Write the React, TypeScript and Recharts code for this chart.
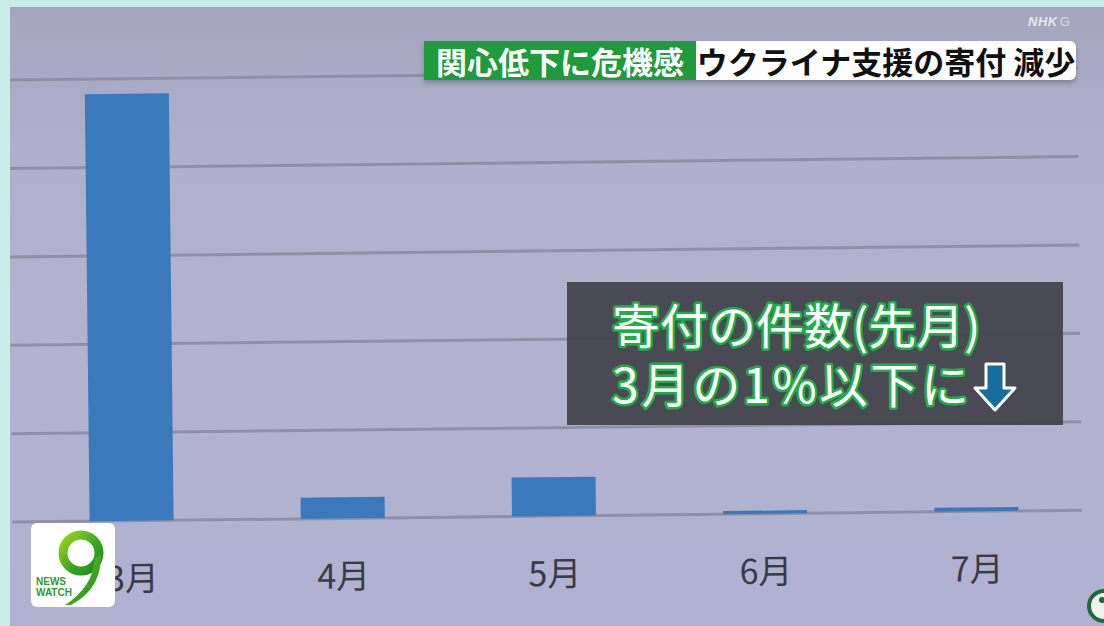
import React from 'react';
import { BarChart, Bar, XAxis, YAxis, CartesianGrid } from 'recharts';

const months = ['3月', '4月', '5月', '6月', '7月'];
const donationCounts = [4.83, 0.24, 0.44, 0.035, 0.045];
const gridTicks = [0, 1, 2, 3, 4, 5];
const titleTag = '関心低下に危機感';
const titleMain = 'ウクライナ支援の寄付 減少';
const noteLine1 = '寄付の件数(先月)';
const noteLine2 = '3月の1%以下に';

const data = months.map((m, i) => ({ month: m, count: donationCounts[i] }));

const FONT = '"Noto Sans CJK JP", "Noto Sans", sans-serif';

const MonthTick = (props: any) => {
  const { x, y, payload } = props;
  return (
    <text x={x} y={y} dy={70} textAnchor="middle" fontFamily={FONT} fontSize={34} fill="#3a3a44">
      {payload.value}
    </text>
  );
};

export default function App() {
  return (
    <div style={{ position: 'absolute', left: 0, top: 0, width: 1104, height: 626, background: '#c9eee8', overflow: 'hidden', fontFamily: FONT }}>
      <div
        style={{
          position: 'absolute', left: 10, top: 7, width: 1094, height: 619, overflow: 'hidden',
          background: 'linear-gradient(180deg, #a6a5bf 0%, #b0afcc 25%, #b3b3d0 60%, #b0b0d1 100%)',
        }}
      >
        <div style={{ position: 'absolute', left: 0, top: 0, width: 1094, height: 619, transform: 'rotate(-0.64deg)', transformOrigin: '547px 310px' }}>
          <BarChart width={1094} height={619} data={data} margin={{ top: 67, right: 24, bottom: 0, left: 0 }} barCategoryGap="30%">
            <CartesianGrid horizontal vertical={false} stroke="#8f90a8" strokeWidth={3} />
            <XAxis dataKey="month" axisLine={false} tickLine={false} tickSize={0} tickMargin={0} height={110} padding={{ left: 14, right: 0 }} interval={0} tick={<MonthTick />} />
            <YAxis hide domain={[0, 5]} ticks={gridTicks} />
            <Bar dataKey="count" fill="#3a79bb" isAnimationActive={false} />
          </BarChart>
        </div>
      </div>

      {/* NHK G */}
      <div style={{ position: 'absolute', left: 1028, top: 14, fontSize: 13, color: '#e6e6f0', fontFamily: '"Liberation Sans", sans-serif', letterSpacing: 0.5 }}>
        <span style={{ fontWeight: 700, fontStyle: 'italic' }}>NHK</span>
        <span style={{ color: '#d8d8e4', marginLeft: 2 }}>G</span>
      </div>

      {/* Title bar */}
      <div style={{ position: 'absolute', left: 424, top: 41, height: 39, display: 'flex', boxShadow: '0 3px 4px rgba(60,60,80,0.35)', borderRadius: '0 6px 6px 0' }}>
        <div style={{ width: 272, height: 39, background: '#1f9a3d', color: '#ffffff', fontWeight: 700, fontSize: 31, lineHeight: '39px', textAlign: 'center' }}>
          {titleTag}
        </div>
        <div style={{ width: 380, height: 39, background: '#fdfdfd', color: '#111111', fontWeight: 700, fontSize: 31, lineHeight: '39px', textAlign: 'center', borderRadius: '0 6px 6px 0', whiteSpace: 'pre' }}>
          {titleMain}
        </div>
      </div>

      {/* Note box */}
      <div style={{ position: 'absolute', left: 567, top: 282, width: 496, height: 143, background: 'rgba(68,68,78,0.95)' }}>
        <svg width={496} height={143}>
          <text x={45} y={62} fontFamily={FONT} fontSize={48} fill="#ffffff" stroke="#1fae45" strokeWidth={5} paintOrder="stroke" strokeLinejoin="round">
            {noteLine1}
          </text>
          <text x={45} y={121} fontFamily={FONT} fontSize={48} letterSpacing={2.8} fill="#ffffff" stroke="#1fae45" strokeWidth={5} paintOrder="stroke" strokeLinejoin="round">
            {noteLine2}
          </text>
          <path d="M419 82 H437 V106 H448 L428 128 L408 106 H419 Z" fill="#156e9e" stroke="#ffffff" strokeWidth={3} strokeLinejoin="round" />
        </svg>
      </div>

      {/* NEWS WATCH 9 logo */}
      <div style={{ position: 'absolute', left: 31, top: 523, width: 84, height: 84, background: '#ffffff', borderRadius: 6 }}>
        <svg width={84} height={84}>
          <defs>
            <linearGradient id="g9" x1="0" y1="0" x2="1" y2="1">
              <stop offset="0%" stopColor="#9bd21e" />
              <stop offset="60%" stopColor="#3aa520" />
              <stop offset="100%" stopColor="#1c8a1c" />
            </linearGradient>
          </defs>
          <circle cx={50} cy={30} r={18} fill="none" stroke="url(#g9)" strokeWidth={9} />
          <path d="M64 36 C62 56 52 70 34 82 L40 82 C58 72 70 58 70 32 Z" fill="url(#g9)" />
          <text x={5} y={62} fontFamily='"Liberation Sans Narrow", "Liberation Sans", sans-serif' fontSize={10} fontWeight={700} fill="#2e9a2a">NEWS</text>
          <text x={5} y={73} fontFamily='"Liberation Sans Narrow", "Liberation Sans", sans-serif' fontSize={10} fontWeight={700} fill="#2e9a2a">WATCH</text>
        </svg>
      </div>

      {/* bottom-right partial logo */}
      <svg style={{ position: 'absolute', left: 1086, top: 588 }} width={18} height={36}>
        <circle cx={18} cy={18} r={15} fill="#eef2ee" stroke="#1e6a3a" strokeWidth={4} />
        <circle cx={16} cy={12} r={3} fill="#1e6a3a" />
      </svg>
    </div>
  );
}
